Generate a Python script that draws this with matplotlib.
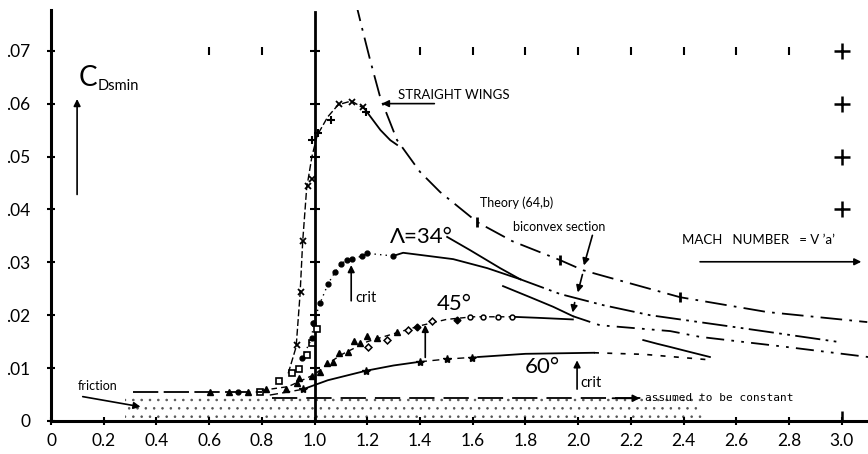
import matplotlib
matplotlib.use("Agg")
from matplotlib import pyplot as plt

plt.rcParams['font.family'] = ['Lato', 'DejaVu Sans']
plt.rcParams['hatch.linewidth'] = 0.6

# --- axis ticks ---
x_ticks = [0, 0.2, 0.4, 0.6, 0.8, 1.0, 1.2, 1.4, 1.6, 1.8, 2.0, 2.2, 2.4, 2.6, 2.8, 3.0]
x_labels = ['0', '0.2', '0.4', '0.6', '0.8', '1.0', '1.2', '1.4', '1.6', '1.8',
            '2.0', '2.2', '2.4', '2.6', '2.8', '3.0']
y_ticks = [0, 0.01, 0.02, 0.03, 0.04, 0.05, 0.06, 0.07]
y_labels = ['0', '.01', '.02', '.03', '.04', '.05', '.06', '.07']

# --- theory (64,b), straight wings ---
theory_m = [1.154, 1.18, 1.211, 1.249, 1.313, 1.40, 1.476, 1.617, 1.75, 1.932,
            2.019, 2.083, 2.387, 2.717, 3.097]
theory_c = [0.0796, 0.0743, 0.0682, 0.0612, 0.0531, 0.0471, 0.0433, 0.0376, 0.0340,
            0.0304, 0.0285, 0.0276, 0.0234, 0.0206, 0.0187]
theory_pts_m = [1.617, 1.932, 2.387]
theory_pts_c = [0.0376, 0.0304, 0.0234]

# biconvex theory, 34 deg
bic34_m = [1.503, 1.59, 1.704, 1.78, 1.932, 2.095, 2.273, 2.588, 2.994]
bic34_c = [0.0348, 0.0323, 0.0289, 0.0268, 0.0240, 0.0219, 0.0200, 0.0178, 0.0149]
# biconvex theory, 45 deg
bic45_m = [1.715, 1.818, 1.905, 1.981, 2.083, 2.349, 2.463, 2.79, 3.10]
bic45_c = [0.0255, 0.0234, 0.0216, 0.0198, 0.0181, 0.0170, 0.0159, 0.0140, 0.0121]
# short solid piece
bic60_m = [2.247, 2.30, 2.349, 2.42, 2.50]
bic60_c = [0.0153, 0.0146, 0.0140, 0.0131, 0.0121]

# --- straight wings experiment ---
sw_line_m = [0.90, 0.93, 0.945, 0.955, 0.97, 0.99, 1.01, 1.05, 1.09, 1.14, 1.19]
sw_line_c = [0.0090, 0.0140, 0.0240, 0.0340, 0.0440, 0.0500, 0.0540, 0.0575, 0.0598,
             0.0605, 0.0590]
sw_tail_m = [1.19, 1.25, 1.287, 1.313]
sw_tail_c = [0.0590, 0.0550, 0.0531, 0.0522]
sw_x_m = [0.933, 0.949, 0.956, 0.975, 0.99, 1.093, 1.142, 1.184]
sw_x_c = [0.0144, 0.0243, 0.0340, 0.0444, 0.0457, 0.0599, 0.0603, 0.0594]
sw_plus_m = [0.99, 1.013, 1.063, 1.195]
sw_plus_c = [0.0531, 0.0544, 0.0569, 0.0584]
sq_m = [0.793, 0.865, 0.915, 0.941, 0.972, 0.99, 1.01]
sq_c = [0.0055, 0.0075, 0.0091, 0.0098, 0.0124, 0.0147, 0.0174]

# --- 34 deg ---
s34_dot_m = [0.71, 0.953, 0.99, 0.995, 1.021, 1.051, 1.078, 1.10, 1.123, 1.142, 1.18,
             1.199, 1.298]
s34_dot_c = [0.0055, 0.0119, 0.0157, 0.0185, 0.0223, 0.0259, 0.0282, 0.0297, 0.0304,
             0.0306, 0.0312, 0.0317, 0.0312]
s34_line_m = [1.298, 1.336, 1.40, 1.526, 1.655, 1.78]
s34_line_c = [0.0312, 0.0318, 0.0314, 0.0306, 0.0289, 0.0268]

# --- 45 deg ---
s45_tri_m = [0.603, 0.675, 0.748, 0.816, 0.892, 0.933, 0.941, 0.99, 1.021, 1.047, 1.07,
             1.093, 1.127, 1.15, 1.173, 1.20, 1.237, 1.313]
s45_tri_c = [0.0055, 0.0055, 0.0055, 0.0060, 0.0060, 0.0072, 0.0081, 0.0085, 0.0093,
             0.0110, 0.0112, 0.0128, 0.0130, 0.0151, 0.0147, 0.0160, 0.0157, 0.0168]
s45_dia_m = [1.203, 1.275, 1.355, 1.446]
s45_dia_c = [0.0140, 0.0153, 0.0172, 0.0189]
s45_fill_m = [1.389, 1.54]
s45_fill_c = [0.0178, 0.0191]
s45_circ_m = [1.59, 1.64, 1.696, 1.75]
s45_circ_c = [0.0197, 0.0197, 0.0197, 0.0197]
s45_line_m = [0.80, 0.90, 1.00, 1.05, 1.10, 1.20, 1.30, 1.40, 1.50, 1.60, 1.75]
s45_line_c = [0.0058, 0.0065, 0.0088, 0.0108, 0.0125, 0.0150, 0.0165, 0.0180, 0.0192,
              0.0197, 0.0197]
s45_tail_m = [1.75, 1.85, 1.98]
s45_tail_c = [0.0197, 0.0195, 0.0192]

# --- 60 deg ---
s60_star_m = [0.956, 1.195, 1.40, 1.503, 1.598]
s60_star_c = [0.0060, 0.0095, 0.0112, 0.0117, 0.0119]
s60_lead_m = [0.83, 0.90, 0.956]
s60_lead_c = [0.0049, 0.0055, 0.0060]
s60_line_m = [0.956, 1.05, 1.195, 1.30, 1.40]
s60_line_c = [0.0060, 0.0077, 0.0095, 0.0105, 0.0112]
s60_mid_m = [1.40, 1.50, 1.62]
s60_mid_c = [0.0112, 0.0117, 0.0121]
s60_solid_m = [1.62, 1.80, 2.06]
s60_solid_c = [0.0121, 0.0127, 0.0129]
s60_dot_m = [2.06, 2.25, 2.49]
s60_dot_c = [0.0129, 0.0126, 0.0116]

# --- friction ---
fric_low_m = [0.31, 0.80]
fric_low_c = [0.0054, 0.0054]
fric_const_m = [0.84, 2.24]
fric_const_c = [0.0043, 0.0043]
stipple_m = [0.28, 2.47]
stipple_top = [0.0046, 0.0046]

top_marks_m = [0.6, 0.8, 1.4, 1.6, 1.8, 2.0, 2.2, 2.4, 2.6, 2.8]
plus_marks_c = [0.04, 0.05, 0.06, 0.07]
m1_marks_c = [0.01, 0.02, 0.03, 0.04, 0.05, 0.06, 0.07]

fig = plt.figure(figsize=(8.68, 4.54), dpi=100)
ax = fig.add_axes([0.05876, 0.07269, 0.9413, 0.9053])
ax.set_xlim(0, 3.10)
ax.set_ylim(0, 0.0777)

for s in ['top', 'right']:
    ax.spines[s].set_visible(False)
ax.spines['left'].set_linewidth(2.2)
ax.spines['bottom'].set_linewidth(2.2)
ax.set_xticks(x_ticks)
ax.set_xticklabels(x_labels, fontsize=12.5)
ax.set_yticks(y_ticks)
ax.set_yticklabels(y_labels, fontsize=12.5)
ax.tick_params(direction='inout', length=6, width=1.5)
ax.tick_params(axis='x', pad=6)
ax.tick_params(axis='y', pad=12)

lw = 1.3
k = 'black'

# stipple
ax.fill_between(stipple_m, [0, 0], stipple_top, facecolor='none', edgecolor='#555555',
                hatch='..', linewidth=0)

# M = 1 vertical line
ax.axvline(1.0, color=k, lw=2.0, ymax=0.995)
ax.plot([1.0] * len(m1_marks_c), m1_marks_c, ls='none', marker='_', ms=7, mew=1.5, color=k)
ax.plot(top_marks_m, [0.07] * len(top_marks_m), ls='none', marker='|', ms=6, mew=1.5, color=k)
ax.plot([3.0] * len(plus_marks_c), plus_marks_c, ls='none', marker='+', ms=12, mew=1.8, color=k)
ax.plot([3.0], [0], ls='none', marker='|', ms=14, mew=1.8, color=k)

# theory lines
ax.plot(theory_m, theory_c, color=k, lw=lw, dashes=(12, 4, 1.5, 4))
ax.plot(theory_pts_m, theory_pts_c, ls='none', marker='|', ms=7, mew=2, color=k)
ax.plot(bic34_m[:4], bic34_c[:4], color=k, lw=lw)
ax.plot(bic34_m[3:], bic34_c[3:], color=k, lw=lw, dashes=(14, 3, 1.5, 3, 1.5, 3))
ax.plot(bic45_m[:4], bic45_c[:4], color=k, lw=lw)
ax.plot(bic45_m[3:], bic45_c[3:], color=k, lw=lw, dashes=(10, 4, 1.5, 4, 1.5, 4))
ax.plot(bic60_m, bic60_c, color=k, lw=lw)

# straight wings
ax.plot(sw_line_m, sw_line_c, color=k, lw=1.0, dashes=(5, 2))
ax.plot(sw_tail_m, sw_tail_c, color=k, lw=lw)
ax.plot(sw_x_m, sw_x_c, ls='none', marker='x', ms=4, mew=1.3, color=k)
ax.plot(sw_plus_m, sw_plus_c, ls='none', marker='+', ms=6, mew=1.5, color=k)
ax.plot(sq_m, sq_c, ls='none', marker='s', ms=4, mew=1.2, mfc='white', color=k)

# 34 deg
ax.plot(s34_dot_m[1:], s34_dot_c[1:], color=k, lw=1.0, ls=(0, (1, 3)))
ax.plot(s34_dot_m, s34_dot_c, ls='none', marker='o', ms=3.5, color=k)
ax.plot(s34_line_m, s34_line_c, color=k, lw=lw)

# 45 deg
ax.plot(s45_line_m, s45_line_c, color=k, lw=1.0, dashes=(4, 3))
ax.plot(s45_tail_m, s45_tail_c, color=k, lw=lw)
ax.plot(s45_tri_m, s45_tri_c, ls='none', marker='^', ms=4.5, color=k)
ax.plot(s45_dia_m, s45_dia_c, ls='none', marker='D', ms=3.5, mew=1.1, mfc='white', color=k)
ax.plot(s45_fill_m, s45_fill_c, ls='none', marker='D', ms=3.5, color=k)
ax.plot(s45_circ_m, s45_circ_c, ls='none', marker='o', ms=3.5, mew=1.1, mfc='white', color=k)

# 60 deg
ax.plot(s60_lead_m, s60_lead_c, color=k, lw=1.0, dashes=(6, 3))
ax.plot(s60_line_m, s60_line_c, color=k, lw=lw)
ax.plot(s60_mid_m, s60_mid_c, color=k, lw=1.0, dashes=(5, 4))
ax.plot(s60_solid_m, s60_solid_c, color=k, lw=lw)
ax.plot(s60_dot_m, s60_dot_c, color=k, lw=1.2, dashes=(3, 5))
ax.plot(s60_star_m, s60_star_c, ls='none', marker='*', ms=6, color=k)

# friction
ax.plot(fric_low_m, fric_low_c, color=k, lw=1.3, dashes=(14, 3))
ax.plot(fric_const_m, fric_const_c, color=k, lw=1.3, dashes=(14, 5))
ax.annotate('', xy=(2.245, 0.0043), xytext=(2.12, 0.0043),
            arrowprops=dict(arrowstyle='-|>', color=k, lw=1.3, mutation_scale=10))

# annotations
arr = dict(arrowstyle='-|>', color=k, lw=1.2, mutation_scale=10)
ax.text(0.105, 0.0649, 'C', fontsize=20, va='center', ha='left')
ax.text(0.175, 0.0634, 'Dsmin', fontsize=10.5, va='center', ha='left')
ax.annotate('', xy=(0.099, 0.0614), xytext=(0.099, 0.0423), arrowprops=arr)

ax.text(1.317, 0.0616, 'STRAIGHT WINGS', fontsize=9.5, va='center', ha='left')
ax.annotate('', xy=(1.245, 0.0600), xytext=(1.465, 0.0600), arrowprops=arr)

ax.text(1.628, 0.0412, 'Theory (64,b)', fontsize=9, va='center', ha='left')
ax.text(1.753, 0.0367, 'biconvex section', fontsize=9, va='center', ha='left')
ax.annotate('', xy=(2.019, 0.0289), xytext=(2.057, 0.0356), arrowprops=arr)
ax.annotate('', xy=(1.996, 0.0238), xytext=(2.019, 0.0282), arrowprops=arr)
ax.annotate('', xy=(1.977, 0.0200), xytext=(1.989, 0.0229), arrowprops=arr)

ax.text(1.287, 0.0348, '\u039b=34\u00b0', fontsize=16, va='center', ha='left')
ax.text(1.465, 0.0221, '45\u00b0', fontsize=16, va='center', ha='left')
ax.text(1.799, 0.0102, '60\u00b0', fontsize=16, va='center', ha='left')

ax.annotate('', xy=(1.139, 0.0300), xytext=(1.139, 0.0222), arrowprops=arr)
ax.text(1.153, 0.0233, 'crit', fontsize=10.5, va='center', ha='left')
ax.annotate('', xy=(1.42, 0.0187), xytext=(1.42, 0.0115), arrowprops=arr)
ax.annotate('', xy=(1.996, 0.0120), xytext=(1.996, 0.0055), arrowprops=arr)
ax.text(2.010, 0.0072, 'crit', fontsize=10.5, va='center', ha='left')

ax.text(2.395, 0.0342, 'MACH   NUMBER   = V \u2019a\u2019', fontsize=9.5, va='center', ha='left')
ax.annotate('', xy=(3.085, 0.0301), xytext=(2.452, 0.0301), arrowprops=arr)

ax.text(0.102, 0.0067, 'friction', fontsize=9, va='center', ha='left')
ax.annotate('', xy=(0.35, 0.0026), xytext=(0.110, 0.0047), arrowprops=arr)
ax.text(2.254, 0.0044, 'assumed to be constant', fontsize=8, va='center', ha='left',
        family='DejaVu Sans Mono')

fig.savefig('out.png', dpi=100)
